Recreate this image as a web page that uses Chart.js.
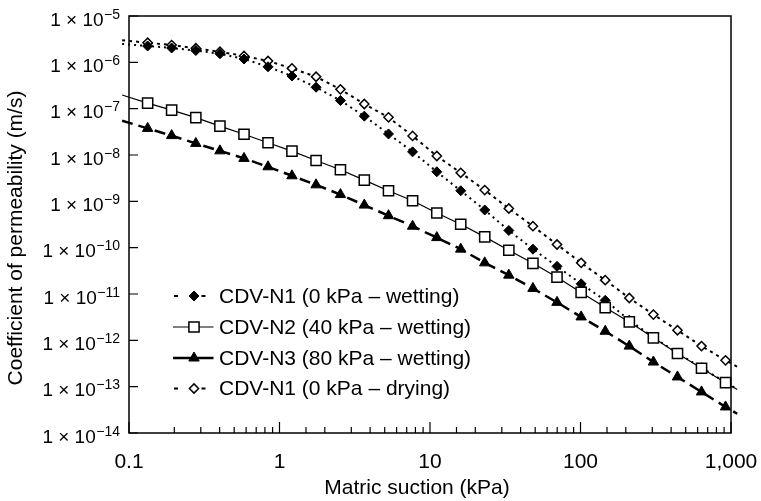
<!DOCTYPE html>
<html>
<head>
<meta charset="utf-8">
<script src="https://cdn.jsdelivr.net/npm/chart.js@4/dist/chart.umd.min.js"></script>
<style>
  html, body { margin: 0; padding: 0; background: #fff; }
  #wrap { width: 761px; height: 501px; }
</style>
</head>
<body>
<div id="wrap"><canvas id="chart" width="761" height="501"></canvas></div>
<script>
// Matric suction (kPa); the first and last entries carry the curves out to the frame edges
const suction = [0.09, 0.133, 0.192, 0.278, 0.402, 0.581, 0.839, 1.21, 1.75, 2.54, 3.66, 5.30, 7.66,
  11.1, 16.0, 23.1, 33.4, 48.3, 69.8, 101, 146, 211, 305, 441, 637, 920, 1100];

// Coefficient of permeability (m/s)
const kN1Wetting = [2.5e-6, 2.25e-6, 2.04e-6, 1.80e-6, 1.53e-6, 1.18e-6, 8.0e-7, 5.06e-7, 2.9e-7, 1.50e-7,
  6.9e-8, 2.85e-8, 1.17e-8, 4.34e-9, 1.69e-9, 6.5e-10, 2.35e-10, 9.3e-11, 3.95e-11, 1.66e-11, 7.3e-12,
  2.72e-12, 1.17e-12, 5.3e-13, 2.56e-13, 1.24e-13, 8.8e-14];
const kN2Wetting = [1.97e-7, 1.32e-7, 9.3e-8, 6.4e-8, 4.2e-8, 2.8e-8, 1.84e-8, 1.21e-8, 7.6e-9, 4.8e-9,
  2.87e-9, 1.69e-9, 1.03e-9, 5.6e-10, 3.2e-10, 1.71e-10, 8.8e-11, 4.6e-11, 2.31e-11, 1.08e-11, 5.1e-12,
  2.5e-12, 1.13e-12, 5.2e-13, 2.5e-13, 1.22e-13, 8.7e-14];
const kN3Wetting = [5.5e-8, 3.75e-8, 2.62e-8, 1.78e-8, 1.23e-8, 8.45e-9, 5.56e-9, 3.56e-9, 2.27e-9, 1.40e-9,
  8.3e-10, 4.9e-10, 2.9e-10, 1.65e-10, 9.3e-11, 4.7e-11, 2.55e-11, 1.32e-11, 6.6e-12, 3.2e-12, 1.57e-12,
  7.5e-13, 3.4e-13, 1.62e-13, 7.7e-14, 3.65e-14, 2.6e-14];
const kN1Drying = [3.0e-6, 2.65e-6, 2.36e-6, 2.01e-6, 1.69e-6, 1.37e-6, 1.07e-6, 7.4e-7, 4.89e-7, 2.61e-7,
  1.26e-7, 6.5e-8, 2.58e-8, 9.5e-9, 4.13e-9, 1.75e-9, 7.0e-10, 2.91e-10, 1.17e-10, 4.7e-11, 1.99e-11,
  8.2e-12, 3.6e-12, 1.65e-12, 7.5e-13, 3.7e-13, 2.7e-13];

const seriesLabels = [
  'CDV-N1 (0 kPa – wetting)',
  'CDV-N2 (40 kPa – wetting)',
  'CDV-N3 (80 kPa – wetting)',
  'CDV-N1 (0 kPa – drying)'
];

const xTickValues = [0.1, 1, 10, 100, 1000];
const xTickLabels = ['0.1', '1', '10', '100', '1,000'];
const yTickExponents = [-5, -6, -7, -8, -9, -10, -11, -12, -13, -14];

const xTitle = 'Matric suction (kPa)';
const yTitle = 'Coefficient of permeability (m/s)';

const FONT = '"Liberation Sans", Arial, Helvetica, sans-serif';

function toPoints(values) {
  return suction.map((s, i) => ({ x: s, y: values[i] }));
}
// markers only on the measured points, not on the edge extensions
function markerRadius(r) {
  return (c) => (c.dataIndex === 0 || c.dataIndex === suction.length - 1) ? 0 : r;
}
function isDecade(v) {
  const l = Math.log10(v);
  return Math.abs(l - Math.round(l)) < 1e-6;
}

const edgeClip = { left: 7, right: 7, top: 0, bottom: 0 };

const datasets = [
  {
    label: seriesLabels[0], data: toPoints(kN1Wetting), order: 1,
    borderColor: '#000', borderWidth: 2, borderDash: [2, 4],
    pointStyle: 'rectRot', pointRadius: markerRadius(5),
    pointBackgroundColor: '#000', pointBorderColor: '#000', pointBorderWidth: 1,
    legendDashes: true
  },
  {
    label: seriesLabels[1], data: toPoints(kN2Wetting), order: 0,
    borderColor: '#000', borderWidth: 1.2,
    pointStyle: 'rect', pointRadius: markerRadius(7.2),
    pointBackgroundColor: '#fff', pointBorderColor: '#000', pointBorderWidth: 1.5
  },
  {
    label: seriesLabels[2], data: toPoints(kN3Wetting), order: 2,
    borderColor: '#000', borderWidth: 2.5, borderDash: [11, 6],
    pointStyle: 'triangle', pointRadius: markerRadius(6),
    pointBackgroundColor: '#000', pointBorderColor: '#000', pointBorderWidth: 1
  },
  {
    label: seriesLabels[3], data: toPoints(kN1Drying), order: 3,
    borderColor: '#000', borderWidth: 2, borderDash: [3, 4],
    pointStyle: 'rectRot', pointRadius: markerRadius(4.6),
    pointBackgroundColor: '#fff', pointBorderColor: '#000', pointBorderWidth: 1.5,
    legendDashes: true
  }
].map(d => Object.assign({ fill: false, tension: 0, clip: edgeClip, pointHoverRadius: 0 }, d));

// marker shapes for the key
function drawMarker(ctx, style, x, y, r, fill, lw) {
  ctx.beginPath();
  if (style === 'rectRot') {
    ctx.moveTo(x - r, y); ctx.lineTo(x, y - r); ctx.lineTo(x + r, y); ctx.lineTo(x, y + r);
  } else if (style === 'rect') {
    const s = Math.SQRT1_2 * r;
    ctx.rect(x - s, y - s, 2 * s, 2 * s);
  } else if (style === 'triangle') {
    for (let k = 0; k < 3; k++) {
      const ang = k * 2 * Math.PI / 3;
      const px = x + Math.sin(ang) * r, py = y - Math.cos(ang) * r;
      if (k === 0) ctx.moveTo(px, py); else ctx.lineTo(px, py);
    }
  }
  ctx.closePath();
  ctx.fillStyle = fill;
  ctx.fill();
  ctx.lineWidth = lw;
  ctx.strokeStyle = '#000';
  ctx.setLineDash([]);
  ctx.stroke();
}

const axisDecor = {
  id: 'axisDecor',
  beforeDatasetsDraw(chart) {
    const { ctx, chartArea: a, scales: { x, y } } = chart;
    ctx.save();
    ctx.strokeStyle = '#000';
    ctx.lineWidth = 1.5;
    ctx.strokeRect(a.left, a.top, a.right - a.left, a.bottom - a.top);
    // inward tick marks: long at decades, short in between on the suction axis
    ctx.lineWidth = 1.2;
    ctx.beginPath();
    x.ticks.forEach(t => {
      const px = x.getPixelForValue(t.value);
      if (px < a.left - 0.5 || px > a.right + 0.5) return;
      const len = isDecade(t.value) ? 11 : 6;
      ctx.moveTo(px, a.bottom); ctx.lineTo(px, a.bottom - len);
    });
    y.ticks.forEach(t => {
      if (!isDecade(t.value)) return;
      const py = y.getPixelForValue(t.value);
      ctx.moveTo(a.left, py); ctx.lineTo(a.left + 9, py);
    });
    ctx.stroke();
    ctx.restore();
  },
  afterDraw(chart) {
    const { ctx, chartArea: a, scales: { x, y } } = chart;
    ctx.save();
    ctx.fillStyle = '#000';

    // suction tick labels
    ctx.font = '21px ' + FONT;
    ctx.textAlign = 'center';
    ctx.textBaseline = 'middle';
    xTickValues.forEach((v, i) => ctx.fillText(xTickLabels[i], x.getPixelForValue(v), 462));

    // permeability tick labels: 1 × 10 with a raised exponent
    yTickExponents.forEach(e => {
      const py = y.getPixelForValue(Math.pow(10, e));
      const sup = '−' + Math.abs(e);
      ctx.textBaseline = 'alphabetic';
      ctx.font = '14px ' + FONT;
      ctx.textAlign = 'right';
      const supW = ctx.measureText(sup).width;
      ctx.fillText(sup, 120, py + 2.5);
      ctx.font = '19px ' + FONT;
      ctx.fillText('1 × 10', 120 - supW - 0.5, py + 9.5);
    });

    // axis titles
    ctx.font = '21px ' + FONT;
    ctx.textAlign = 'center';
    ctx.textBaseline = 'middle';
    ctx.fillText(xTitle, 417, 488);
    ctx.save();
    ctx.translate(16, 238);
    ctx.rotate(-Math.PI / 2);
    ctx.fillText(yTitle, 0, 0);
    ctx.restore();

    // key
    const rowY = [296, 327, 358, 388.5];
    chart.data.datasets.forEach((d, i) => {
      const yy = rowY[i];
      ctx.strokeStyle = '#000';
      ctx.lineWidth = d.borderWidth;
      ctx.setLineDash([]);
      ctx.beginPath();
      if (d.legendDashes) {
        ctx.moveTo(174, yy); ctx.lineTo(178, yy);
        ctx.moveTo(201.5, yy); ctx.lineTo(205.5, yy);
      } else {
        ctx.moveTo(173, yy); ctx.lineTo(213.5, yy);
      }
      ctx.stroke();
      const r = typeof d.pointRadius === 'function' ? d.pointRadius({ dataIndex: 1 }) : d.pointRadius;
      drawMarker(ctx, d.pointStyle, 194, yy, r, d.pointBackgroundColor, d.pointBorderWidth);
      ctx.fillStyle = '#000';
      ctx.font = '21px ' + FONT;
      ctx.textAlign = 'left';
      ctx.textBaseline = 'middle';
      ctx.fillText(d.label, 219, yy + 1);
    });
    ctx.restore();
  }
};

new Chart(document.getElementById('chart'), {
  type: 'line',
  data: { datasets },
  options: {
    responsive: false,
    animation: false,
    devicePixelRatio: 1,
    events: [],
    layout: { padding: { top: 16, right: 30, left: 0, bottom: 0 } },
    plugins: { legend: { display: false }, tooltip: { enabled: false }, title: { display: false } },
    scales: {
      x: {
        type: 'logarithmic', min: 0.1, max: 1000,
        grid: { display: false }, border: { display: false },
        ticks: { display: false },
        afterFit: (s) => { s.height = 68; }
      },
      y: {
        type: 'logarithmic', min: 1e-14, max: 1e-5,
        grid: { display: false }, border: { display: false },
        ticks: { display: false },
        afterFit: (s) => { s.width = 129; }
      }
    }
  },
  plugins: [axisDecor]
});
</script>
</body>
</html>
